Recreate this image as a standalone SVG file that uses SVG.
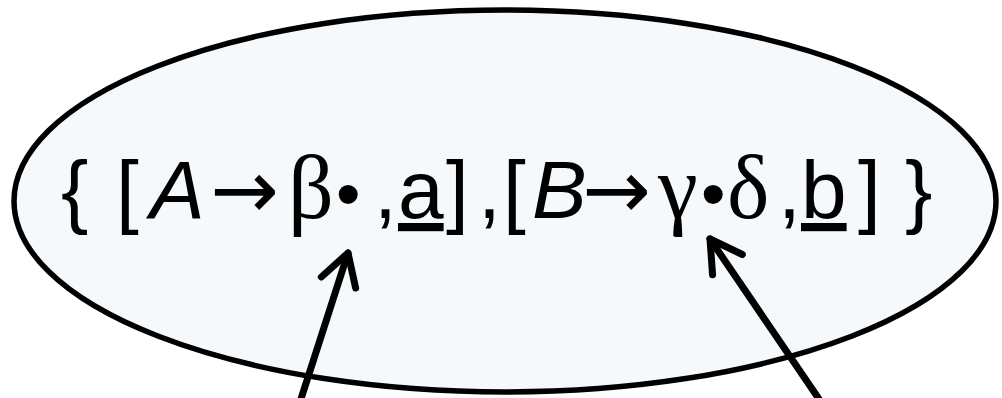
<svg xmlns="http://www.w3.org/2000/svg" width="1002" height="398" viewBox="0 0 1002 398">
<style>
.shape{fill:#f6f9fb;stroke:#000;stroke-width:5.5}
.t{font-family:"Liberation Sans",Arial,sans-serif;font-size:82px;fill:#000}
.g{font-family:"Liberation Serif","Times New Roman",serif;font-size:90px}
.ar{font-family:"DejaVu Sans",sans-serif;font-size:82px}
.d{font-size:70px}
.i{font-style:italic}
.u{text-decoration:underline}
.conn{stroke:#000;stroke-width:7;fill:none;stroke-linecap:round}
.head{stroke:#000;stroke-width:7;fill:none;stroke-linecap:round;stroke-linejoin:round}
</style>
<defs>
<marker id="arr" viewBox="-40 -25 50 50" refX="0" refY="0" markerWidth="50" markerHeight="50" markerUnits="userSpaceOnUse" orient="auto" overflow="visible">
<path class="head" d="M-31,-18 L0,0 L-31,18"/>
</marker>
</defs>
<g id="state">
<ellipse class="shape" cx="505" cy="201" rx="491" ry="191"/>
<text class="t" y="218"><tspan x="61">{</tspan><tspan x="116">[</tspan><tspan x="150" class="i">A</tspan><tspan x="210" class="ar">→</tspan><tspan x="288" class="g">β</tspan><tspan x="336" class="d">•</tspan><tspan x="374">,</tspan><tspan x="398" class="u">a</tspan><tspan x="446">]</tspan><tspan x="478">,</tspan><tspan x="503">[</tspan><tspan x="532" class="i">B</tspan><tspan x="582" class="ar">→</tspan><tspan x="658" class="g">γ</tspan><tspan x="701" class="d">•</tspan><tspan x="727" class="g">δ</tspan><tspan x="778">,</tspan><tspan x="801" class="u">b</tspan><tspan x="858">]</tspan><tspan x="905">}</tspan></text>
</g>
<g id="connectors">
<line class="conn" x1="300" y1="402" x2="348" y2="253" marker-end="url(#arr)"/>
<line class="conn" x1="821" y1="402" x2="710" y2="239" marker-end="url(#arr)"/>
</g>
</svg>
